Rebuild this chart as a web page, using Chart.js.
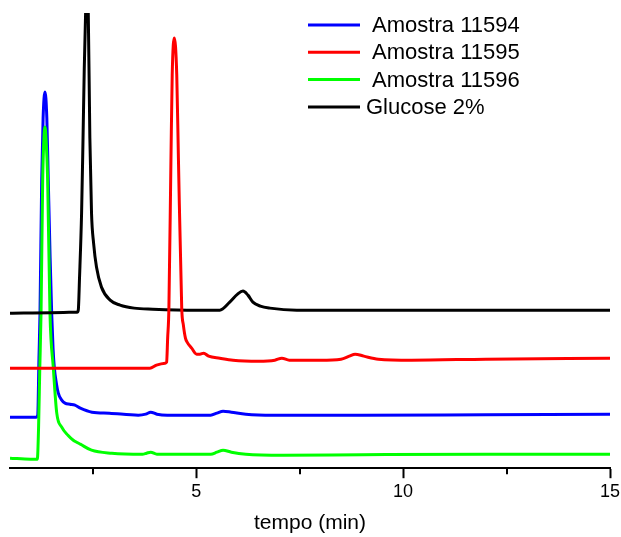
<!DOCTYPE html>
<html>
<head>
<meta charset="utf-8">
<script src="https://cdn.jsdelivr.net/npm/chart.js@4/dist/chart.umd.min.js"></script>
<style>
  html, body { margin: 0; padding: 0; background: #fff; }
  #wrap { width: 621px; height: 537px; }
</style>
</head>
<body>
<div id="wrap"><canvas id="chrom"></canvas></div>
<script>
// retention time (min) and detector signal (arb. units) for each run
const tBlue = [0.5, 1.0, 1.13, 1.17, 1.2, 1.225, 1.266, 1.3, 1.345, 1.39, 1.425, 1.47, 1.507, 1.54, 1.57, 1.62, 1.667, 1.75, 1.83, 1.95, 2.07, 2.2, 2.48, 2.9, 3.6, 3.78, 3.9, 4.05, 4.3, 5.35, 5.5, 5.65, 5.85, 6.2, 6.85, 9, 12, 15];
const yBlue = [51, 51, 51, 53, 110, 155, 288, 350, 376, 350, 288, 210, 155, 120, 101, 85, 75, 68, 65, 64, 63, 60, 56, 55, 53, 54, 56, 54, 53, 53, 55, 57, 56, 54, 53, 53, 53.5, 54];

const tRed = [0.5, 2.5, 3.88, 4.04, 4.25, 4.285, 4.31, 4.34, 4.39, 4.42, 4.47, 4.53, 4.57, 4.65, 4.69, 4.74, 4.78, 4.89, 5.01, 5.09, 5.18, 5.3, 5.57, 5.89, 6.5, 6.9, 7.07, 7.25, 8.0, 8.5, 8.7, 8.84, 9.05, 9.4, 10.2, 12, 15];
const yRed = [100, 100, 100, 103, 105, 106, 130, 160, 310, 393, 430, 393, 310, 160, 143, 130, 126, 120, 114, 114, 115, 112, 110, 108, 107, 108, 110, 108, 108, 109, 112, 114, 112, 109, 108, 109, 110];

const tGreen = [0.5, 1.0, 1.16, 1.19, 1.22, 1.25, 1.29, 1.32, 1.345, 1.37, 1.41, 1.466, 1.546, 1.63, 1.75, 1.9, 2.03, 2.11, 2.2, 2.47, 2.96, 3.7, 3.8, 3.9, 4.05, 4.3, 5.35, 5.5, 5.65, 5.85, 6.2, 7.1, 9, 12, 15];
const yGreen = [10, 9, 9, 40, 100, 155, 288, 330, 341, 330, 288, 155, 101, 55, 41, 33, 28, 26, 24, 18, 15, 14, 15, 16, 14, 14, 14, 16, 18, 16, 14, 13, 13.5, 14, 14];

const tBlack = [0.5, 1.5, 2.12, 2.15, 2.18, 2.23, 2.265, 2.295, 2.33, 2.36, 2.39, 2.43, 2.47, 2.52, 2.59, 2.71, 2.92, 3.16, 3.5, 3.95, 5.0, 5.57, 5.81, 6.0, 6.13, 6.25, 6.37, 6.55, 6.78, 7.43, 10, 12, 15];
const yBlack = [155, 155.5, 156, 158, 190, 255, 330, 400, 460, 490, 460, 330, 255, 225, 201, 181, 168, 163, 160, 159, 158, 158, 166, 174, 177, 173, 166, 162, 160, 158, 158, 158, 158];

const labels = [" Amostra 11594", " Amostra 11595", " Amostra 11596", "Glucose 2%"];
const colors = ["#0000ff", "#ff0000", "#00ff00", "#000000"];
const xTicksMajor = [5, 10, 15];

function pts(t, y) {
  return t.map((v, i) => ({ x: v, y: y[i] }));
}

const FONT = "'Liberation Sans', Arial, sans-serif";

// legend drawn inside the plot, top right, like the original figure
const legendInside = {
  id: "legendInside",
  afterDraw(chart) {
    const ctx = chart.ctx;
    ctx.save();
    ctx.font = "22px " + FONT;
    ctx.textBaseline = "middle";
    ctx.fillStyle = "#000";
    chart.data.datasets.forEach((ds, i) => {
      const y = 25 + i * 27.3;
      ctx.strokeStyle = ds.borderColor;
      ctx.lineWidth = 3;
      ctx.beginPath();
      ctx.moveTo(308, y);
      ctx.lineTo(360, y);
      ctx.stroke();
      ctx.fillText(ds.label, 366, y + 1);
    });
    ctx.restore();
  }
};

// short minor ticks between the labelled ones
const minorTicks = {
  id: "minorTicks",
  afterDraw(chart) {
    const sc = chart.scales.x;
    const ctx = chart.ctx;
    ctx.save();
    ctx.strokeStyle = "#000";
    ctx.lineWidth = 2;
    sc.ticks.forEach(tk => {
      if (xTicksMajor.includes(tk.value)) return;
      const px = Math.round(sc.getPixelForValue(tk.value));
      ctx.beginPath();
      ctx.moveTo(px, sc.top);
      ctx.lineTo(px, sc.top + 6);
      ctx.stroke();
    });
    ctx.restore();
  }
};

const datasets = [
  { label: labels[0], data: pts(tBlue, yBlue), borderColor: colors[0], order: 3 },
  { label: labels[1], data: pts(tRed, yRed), borderColor: colors[1], order: 0 },
  { label: labels[2], data: pts(tGreen, yGreen), borderColor: colors[2], order: 2 },
  { label: labels[3], data: pts(tBlack, yBlack), borderColor: colors[3], order: 1 }
].map(d => Object.assign(d, {
  borderWidth: 3,
  pointRadius: 0,
  fill: false,
  cubicInterpolationMode: "monotone"
}));

new Chart(document.getElementById("chrom"), {
  type: "line",
  data: { datasets: datasets },
  options: {
    responsive: true,
    maintainAspectRatio: false,
    animation: false,
    layout: { padding: { left: 10, right: 11, top: 13, bottom: 1 } },
    plugins: {
      legend: { display: false },
      tooltip: { enabled: false }
    },
    scales: {
      x: {
        type: "linear",
        min: 0.5,
        max: 15,
        afterFit: s => { s.paddingLeft = 0; s.paddingRight = 0; },
        border: { color: "#000", width: 2 },
        grid: {
          drawOnChartArea: false,
          tickLength: 10,
          tickWidth: 2,
          tickColor: c => (xTicksMajor.includes(c.tick.value) ? "#000" : "rgba(0,0,0,0)")
        },
        ticks: {
          stepSize: 2.5,
          includeBounds: false,
          maxRotation: 0,
          color: "#000",
          padding: 3,
          font: { family: FONT, size: 18 },
          callback: v => (xTicksMajor.includes(v) ? String(v) : "")
        },
        title: {
          display: true,
          text: "tempo (min)",
          color: "#000",
          padding: { top: 5, bottom: 0 },
          font: { family: FONT, size: 21 }
        }
      },
      y: {
        display: false,
        min: 0,
        max: 455
      }
    }
  },
  plugins: [legendInside, minorTicks]
});
</script>
</body>
</html>
